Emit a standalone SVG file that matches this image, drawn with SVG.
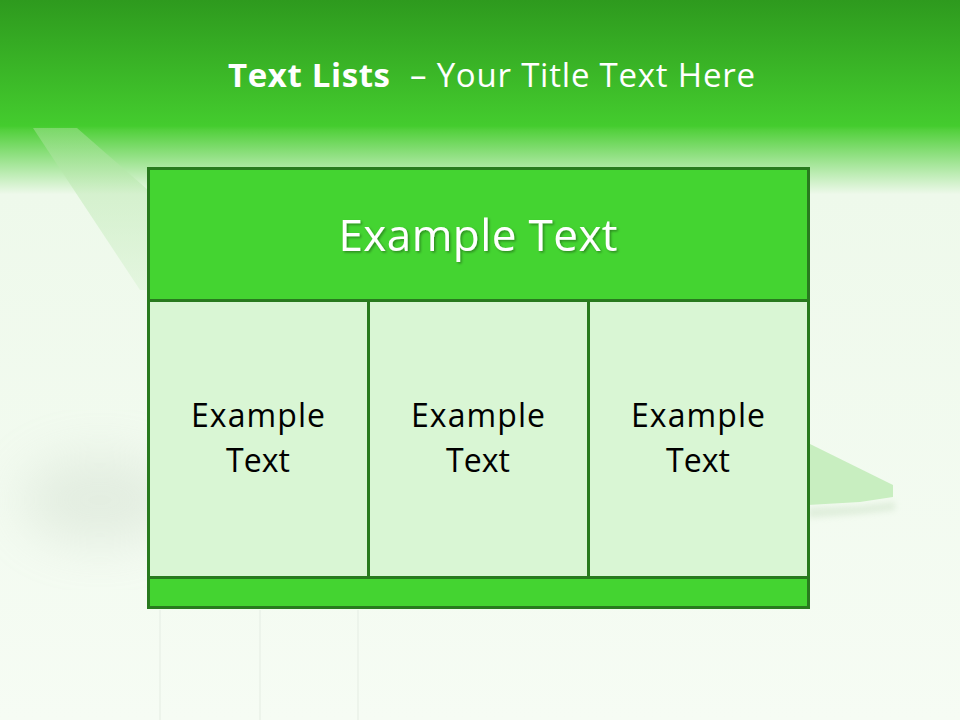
<svg xmlns="http://www.w3.org/2000/svg" width="960" height="720" viewBox="0 0 960 720">
<defs>
<linearGradient id="bg" x1="0" y1="0" x2="0" y2="1">
<stop offset="0" stop-color="#2e9a1e"/>
<stop offset="0.175" stop-color="#44cc2e"/>
<stop offset="0.18" stop-color="#52d03c"/>
<stop offset="0.27" stop-color="#eef9eb"/>
<stop offset="1" stop-color="#f6fcf4"/>
</linearGradient>
<linearGradient id="sw" x1="0" y1="0" x2="0" y2="1">
<stop offset="0" stop-color="#a8e29a" stop-opacity="0.5"/>
<stop offset="1" stop-color="#d8f2d2" stop-opacity="0.5"/>
</linearGradient>
<filter id="blur" x="-50%" y="-50%" width="200%" height="200%"><feGaussianBlur stdDeviation="25"/></filter>
<filter id="blur2" x="-20%" y="-50%" width="140%" height="200%"><feGaussianBlur stdDeviation="3"/></filter>
<filter id="tsh" x="-10%" y="-10%" width="120%" height="130%"><feDropShadow dx="1.5" dy="1.5" stdDeviation="1" flood-color="#000" flood-opacity="0.35"/></filter>
<style>
.box{stroke:#287a1e;stroke-width:3}
.dark{fill:#44d431}
.light{fill:#d9f6d4}
.cell{font-family:"Open Sans","Noto Sans",sans-serif;font-size:32px;fill:#000;text-anchor:middle}
</style>
</defs>
<rect width="960" height="720" fill="url(#bg)"/>
<g id="background">
<ellipse cx="100" cy="500" rx="80" ry="45" fill="#b5c6b3" opacity="0.25" filter="url(#blur)"/>
<polygon points="33,128 77,128 148,190 148,290 140,290" fill="url(#sw)"/>
<polygon points="808,508 860,506 895,502 895,510 860,514 808,518" fill="#b9d6b3" opacity="0.35" filter="url(#blur2)"/>
<polygon points="808,443 893,485 893,497 860,502 808,505" fill="#c8eec0"/>
<line x1="160" y1="610" x2="160" y2="720" stroke="#eaf2e8" stroke-width="1.5"/>
<line x1="260" y1="610" x2="260" y2="720" stroke="#eaf2e8" stroke-width="1.5"/>
<line x1="358" y1="610" x2="358" y2="720" stroke="#eaf2e8" stroke-width="1.5"/>
</g>
<g id="title" font-family="'Open Sans','Noto Sans',sans-serif" fill="#ffffff">
<text x="228" y="87" font-size="33" font-weight="bold" textLength="162">Text Lists</text>
<text x="410" y="87" font-size="33" textLength="345">– Your Title Text Here</text>
</g>
<g id="header">
<rect class="box dark" x="148.5" y="168.5" width="660" height="132"/>
<text x="478" y="251" font-family="'Open Sans','Noto Sans',sans-serif" font-size="44" fill="#ffffff" text-anchor="middle" textLength="279" filter="url(#tsh)">Example Text</text>
</g>
<g id="cell1">
<rect class="box light" x="148.5" y="300.5" width="220" height="277"/>
<text class="cell" x="258" y="427" textLength="134">Example</text>
<text class="cell" x="258" y="472" textLength="64">Text</text>
</g>
<g id="cell2">
<rect class="box light" x="368.5" y="300.5" width="220" height="277"/>
<text class="cell" x="478" y="427" textLength="134">Example</text>
<text class="cell" x="478" y="472" textLength="64">Text</text>
</g>
<g id="cell3">
<rect class="box light" x="588.5" y="300.5" width="220" height="277"/>
<text class="cell" x="698" y="427" textLength="134">Example</text>
<text class="cell" x="698" y="472" textLength="64">Text</text>
</g>
<g id="footer">
<rect class="box dark" x="148.5" y="577.5" width="660" height="30"/>
</g>
<g id="connectors"/>
</svg>
